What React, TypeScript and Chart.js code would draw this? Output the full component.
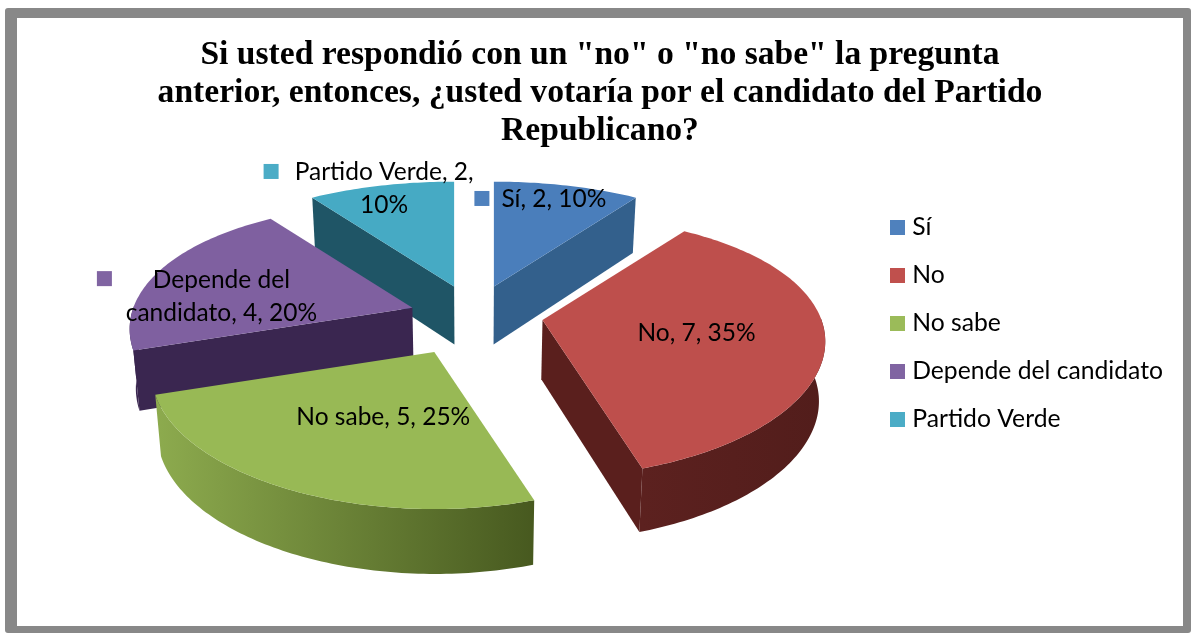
import React, { useEffect, useRef } from "react";
import { Chart, registerables } from "chart.js";

Chart.register(...registerables);

const categories = ["Sí", "No", "No sabe", "Depende del candidato", "Partido Verde"];
const values = [2, 7, 5, 4, 2];
const percents = [10, 35, 25, 20, 10];
const titleLines = [
  'Si usted respondió con un "no" o "no sabe" la pregunta',
  "anterior, entonces, ¿usted votaría por el candidato del Partido",
  "Republicano?",
];
const topColors = ["#4a7ebb", "#be4f4c", "#98b955", "#7f60a0", "#46aac4"];
const keyColors = ["#4f81bd", "#c0504d", "#9bbb59", "#8064a2", "#4bacc6"];
const radialWallColors = ["#33608c", "#5a1f1d", "#6f8f3f", "#3a2650", "#1f5566"];
const outerWallColors = [
  ["#3b6c9e", "#33608c"],
  ["#5c211f", "#521d1b"],
  ["#8dab4e", "#47591f"],
  ["#3a2650", "#3a2650"],
  ["#2a6a7e", "#1f5566"],
];
const explode = [0.24, 0.247, 0.3, 0.235, 0.24];
const nudgeY = [0, 0, 0, 2, 0];
const drawOrder = [0, 4, 3, 1, 2];
const labelLines = [
  ["Sí, 2, 10%"],
  ["No, 7, 35%"],
  ["No sabe, 5, 25%"],
  ["Depende del", "candidato, 4, 20%"],
  ["Partido Verde, 2,", "10%"],
];
// label centre and key-square position, relative to each slice's apex
const labelOffset = [
  { x: 60, y: -87, kx: -12, ky: -88 },
  { x: 154, y: 13, kx: null, ky: null },
  { x: -51, y: 65, kx: null, ky: null },
  { x: -191, y: -28, kx: -308, ky: -29 },
  { x: -70, y: -114, kx: -183, ky: -115 },
];

const P = { cx: 474, cy: 315, rx: 279, ry: 131, bx: 0.167, ay: 0.2 };

type Pt = { x: number; y: number };

function local(a: number, r: number) {
  const u = r * Math.cos(a);
  const v = r * Math.sin(a);
  return { x: P.rx * u * (1 + P.bx * v), y: P.ry * v * (1 + P.ay * v) };
}
function lower(p: Pt) {
  const d = 59 + (p.y - P.cy) * 0.03;
  return { x: P.cx + (p.x - P.cx) * 0.982, y: p.y + d };
}
function poly(ctx: CanvasRenderingContext2D, pts: Pt[], fill: any) {
  ctx.beginPath();
  pts.forEach((p, i) => (i ? ctx.lineTo(p.x, p.y) : ctx.moveTo(p.x, p.y)));
  ctx.closePath();
  ctx.fillStyle = fill;
  ctx.fill();
}
function apexOf(arc: any, i: number) {
  const mid = (arc.startAngle + arc.endAngle) / 2;
  const o = local(mid, explode[i]);
  return { x: P.cx + o.x, y: P.cy + o.y + nudgeY[i] };
}
// a cut face shows only when the slice's top lies above its upper edge
function wallFaces(apex: Pt, end: Pt, inner: Pt) {
  const ex = end.x - apex.x;
  const ey = end.y - apex.y;
  const side = ex * (inner.y - apex.y) - ey * (inner.x - apex.x);
  return side * ex < 0;
}

const pie3d = {
  id: "pie3d",
  beforeDatasetsDraw(chart: any) {
    const ctx: CanvasRenderingContext2D = chart.ctx;
    const arcs = chart.getDatasetMeta(0).data;
    ctx.save();
    drawOrder.forEach((i) => {
      const arc = arcs[i];
      const apex = apexOf(arc, i);
      const rim: Pt[] = [];
      const front: Pt[] = [];
      const steps = Math.max(8, Math.round(((arc.endAngle - arc.startAngle) * 180) / Math.PI));
      for (let s = 0; s <= steps; s++) {
        const a = arc.startAngle + ((arc.endAngle - arc.startAngle) * s) / steps;
        const l = local(a, 1);
        const p = { x: apex.x + l.x, y: apex.y + l.y };
        rim.push(p);
        if (Math.sin(a) > -0.02) front.push(p);
      }
      const apexLow = lower(apex);
      const mid = rim[Math.floor(rim.length / 2)];
      const first = rim[0];
      const last = rim[rim.length - 1];
      // outer wall
      if (front.length > 1) {
        const xs = rim.map((p) => p.x);
        const g = ctx.createLinearGradient(Math.min(...xs), 0, Math.max(...xs), 0);
        g.addColorStop(0, outerWallColors[i][0]);
        g.addColorStop(1, outerWallColors[i][1]);
        poly(ctx, [...front, ...front.map(lower).reverse()], g);
      }
      // radial walls
      if (wallFaces(apex, first, mid)) poly(ctx, [apex, first, lower(first), apexLow], radialWallColors[i]);
      if (wallFaces(apex, last, mid)) poly(ctx, [apex, last, lower(last), apexLow], radialWallColors[i]);
      // top
      poly(ctx, [apex, ...rim], topColors[i]);
    });
    ctx.restore();
    return false;
  },
  afterDraw(chart: any) {
    const ctx: CanvasRenderingContext2D = chart.ctx;
    const arcs = chart.getDatasetMeta(0).data;
    ctx.save();
    ctx.font = "24.5px Lato";
    ctx.fillStyle = "#000";
    ctx.textAlign = "center";
    ctx.textBaseline = "middle";
    labelLines.forEach((lines, i) => {
      const apex = apexOf(arcs[i], i);
      const o = labelOffset[i];
      lines.forEach((t, k) => {
        ctx.fillText(t, apex.x + o.x, apex.y + o.y + k * 33);
      });
      if (o.kx !== null) {
        ctx.fillStyle = keyColors[i];
        ctx.fillRect(apex.x + o.kx - 7.5, apex.y + (o.ky as number) - 7.5, 15, 15);
        ctx.fillStyle = "#000";
      }
    });
    ctx.restore();
  },
};

function keyImage(color: string) {
  const c = document.createElement("canvas");
  c.width = 15;
  c.height = 15;
  const x = c.getContext("2d")!;
  x.fillStyle = color;
  x.fillRect(0, 0, 15, 15);
  return c;
}

export default function App() {
  const ref = useRef<HTMLCanvasElement>(null);
  useEffect(() => {
    document.body.style.margin = "0";
    const chart = new Chart(ref.current!, {
      type: "pie",
      data: {
        labels: categories,
        datasets: [{ data: values, backgroundColor: keyColors, borderWidth: 0 }],
      },
      options: {
        responsive: false,
        animation: false,
        layout: { padding: { left: 27, right: 18, top: 36, bottom: 22 } },
        plugins: {
          tooltip: { enabled: false },
          title: {
            display: true,
            text: titleLines,
            color: "#000",
            font: { family: "'Liberation Serif'", size: 33.6, weight: "bold", lineHeight: 1.131 },
            padding: { top: 0, bottom: 10 },
          },
          legend: {
            position: "right",
            labels: {
              color: "#000",
              font: { family: "Lato", size: 24.7 },
              usePointStyle: true,
              boxWidth: 5,
              padding: 23.3,
              generateLabels() {
                return categories.map((t, i) => ({
                  text: t,
                  index: i,
                  hidden: false,
                  fillStyle: keyColors[i],
                  strokeStyle: keyColors[i],
                  lineWidth: 0,
                  fontColor: "#000",
                  pointStyle: keyImage(keyColors[i]),
                }));
              },
            },
          },
        },
      } as any,
      plugins: [pie3d as any],
    });
    return () => chart.destroy();
  }, []);
  return (
    <div style={{ position: "fixed", left: 0, top: 0, width: 1191, height: 633, background: "#fff", overflow: "hidden" }}>
      <div
        style={{
          position: "absolute",
          left: 5,
          top: 8,
          right: 0,
          bottom: 0,
          border: "solid #888888",
          borderWidth: "10px 8px 7px 12px",
          borderRadius: 3,
          boxSizing: "border-box",
        }}
      />
      <canvas ref={ref} width={1191} height={633} style={{ position: "absolute", left: 0, top: 0 }} />
    </div>
  );
}
